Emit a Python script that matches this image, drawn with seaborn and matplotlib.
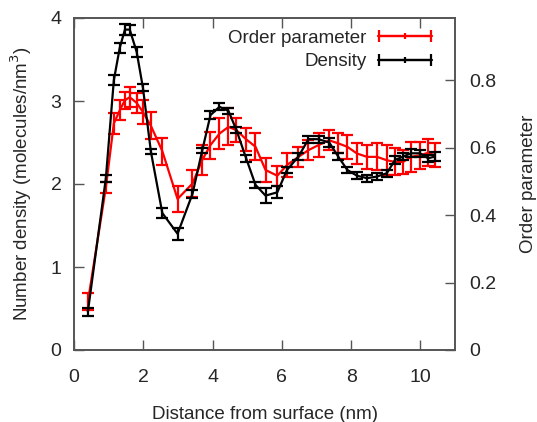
import numpy as np
import pandas as pd
import seaborn as sns
import matplotlib
matplotlib.use("Agg")
import matplotlib.pyplot as plt
from matplotlib.ticker import FuncFormatter
from matplotlib.container import ErrorbarContainer
from matplotlib.legend_handler import HandlerErrorbar

# distance bins (nm)
distance = [0.40, 0.92, 1.15, 1.32, 1.47, 1.61, 1.81, 1.99, 2.22, 2.55, 2.99,
            3.42, 3.70, 3.94, 4.20, 4.46, 4.69, 4.97, 5.24, 5.53, 5.87, 6.15,
            6.48, 6.77, 7.06, 7.37, 7.63, 7.89, 8.17, 8.46, 8.75, 9.03, 9.27,
            9.50, 9.73, 9.99, 10.22, 10.42]

# number density (molecules/nm^3)
density = [0.46, 2.07, 3.25, 3.64, 3.86, 3.86, 3.59, 3.16, 2.39, 1.65, 1.40,
           1.88, 2.40, 2.83, 2.93, 2.88, 2.65, 2.31, 1.99, 1.86, 1.90, 2.17,
           2.33, 2.54, 2.54, 2.50, 2.33, 2.17, 2.10, 2.07, 2.09, 2.13, 2.29,
           2.33, 2.37, 2.37, 2.31, 2.33]
density_err = [0.05, 0.04, 0.06, 0.06, 0.07, 0.06, 0.06, 0.04, 0.03, 0.06, 0.07,
               0.05, 0.03, 0.05, 0.04, 0.04, 0.04, 0.04, 0.04, 0.09, 0.07, 0.04,
               0.04, 0.04, 0.04, 0.05, 0.04, 0.04, 0.04, 0.04, 0.04, 0.04, 0.05,
               0.04, 0.05, 0.04, 0.04, 0.05]

# order parameter
order = [0.143, 0.482, 0.672, 0.711, 0.741, 0.750, 0.733, 0.706, 0.665, 0.590,
         0.448, 0.494, 0.563, 0.608, 0.642, 0.662, 0.652, 0.625, 0.603, 0.534,
         0.517, 0.549, 0.573, 0.593, 0.608, 0.622, 0.613, 0.603, 0.583, 0.573,
         0.573, 0.563, 0.558, 0.558, 0.573, 0.578, 0.585, 0.578]
order_err = [0.025, 0.015, 0.030, 0.030, 0.025, 0.030, 0.030, 0.035, 0.040, 0.040,
             0.040, 0.040, 0.045, 0.040, 0.045, 0.055, 0.035, 0.035, 0.040, 0.035,
             0.030, 0.035, 0.030, 0.030, 0.035, 0.030, 0.030, 0.035, 0.030, 0.035,
             0.040, 0.045, 0.040, 0.035, 0.045, 0.040, 0.040, 0.035]

df = pd.DataFrame({"distance": distance, "density": density, "density_err": density_err,
                   "order": order, "order_err": order_err})

sns.set_style("ticks")
plt.rcParams['font.family'] = ['Liberation Sans', 'DejaVu Sans']
fs = 13.5

fig = plt.figure(figsize=(5.37, 4.22), dpi=100)
ax = fig.add_axes([74 / 537, 72 / 422, 381 / 537, 332 / 422])
ax2 = ax.twinx()

# order parameter (right axis)
sns.lineplot(data=df, x="distance", y="order", ax=ax2, color="#ff0000", lw=1.6,
             legend=False)
ax2.errorbar(df.distance, df.order, yerr=df.order_err, fmt="none", ecolor="#ff0000",
             elinewidth=1.6, capsize=4.5, capthick=1.6)

# density (left axis), drawn on top
sns.lineplot(data=df, x="distance", y="density", ax=ax, color="black", lw=1.6,
             legend=False)
ax.errorbar(df.distance, df.density, yerr=df.density_err, fmt="none", ecolor="black",
            elinewidth=1.6, capsize=4.5, capthick=1.6)
ax.set_zorder(ax2.get_zorder() + 1)
ax.patch.set_visible(False)

ax.set_xlim(0, 11)
ax.set_ylim(0, 4)
ax2.set_ylim(0, 0.985)
ax.set_xticks([0, 2, 4, 6, 8, 10])
ax.set_yticks([0, 1, 2, 3, 4])
ax2.set_yticks([0, 0.2, 0.4, 0.6, 0.8])
fmt = FuncFormatter(lambda v, p: "%g" % v)
ax.yaxis.set_major_formatter(fmt)
ax2.yaxis.set_major_formatter(fmt)

ax.tick_params(axis="x", direction="in", length=7, width=1, color="#555555",
               top=True, labelsize=14, pad=14)
ax.tick_params(axis="y", direction="in", length=7, width=1, color="#555555",
               right=False, labelsize=14, pad=9)
ax2.tick_params(direction="in", length=7, width=1, color="#555555",
                labelsize=14, pad=10)
for a in (ax, ax2):
    for s in a.spines.values():
        s.set_visible(True)
        s.set_color("#555555")
        s.set_linewidth(1.2)

ax.set_xlabel("Distance from surface (nm)", fontsize=fs, labelpad=14)
ax.set_ylabel("Number density (molecules/nm$^3$)", fontsize=fs, labelpad=12)
ax2.set_ylabel("Order parameter", fontsize=fs, labelpad=17)

# legend samples in gnuplot style: |--+--|
h_order = ax2.errorbar([np.nan], [np.nan], xerr=[1], color="#ff0000", lw=1.6,
                       capsize=4, capthick=1.6, marker="|", ms=5, mew=1.6)
h_dens = ax.errorbar([np.nan], [np.nan], xerr=[1], color="black", lw=1.6,
                     capsize=4, capthick=1.6, marker="|", ms=5, mew=1.6)
ax.legend([h_order, h_dens], ["Order parameter", "Density"], loc="upper right",
          bbox_to_anchor=(0.94, 0.965), frameon=False, markerfirst=False,
          fontsize=fs, handlelength=2.9, handletextpad=0.6,
          borderaxespad=0, borderpad=0, labelspacing=0.35,
          handler_map={ErrorbarContainer: HandlerErrorbar(xerr_size=1.4)})

fig.savefig("out.png", dpi=100)
